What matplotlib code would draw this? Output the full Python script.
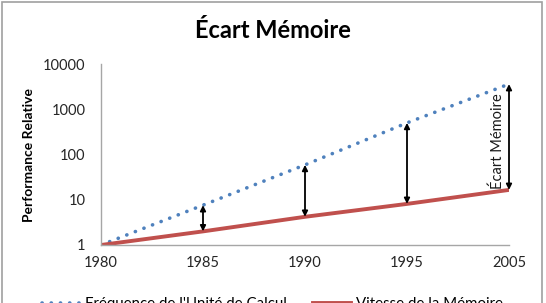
import numpy as np
import matplotlib
matplotlib.use("Agg")
from matplotlib import pyplot as plt
from matplotlib.patches import Rectangle

plt.rcParams['font.family'] = ['Lato', 'DejaVu Sans']

years = ["1980", "1985", "1990", "1995", "2005"]
cpu_perf = [1, 7.6, 59, 500, 3600]
mem_perf = [1, 2.0, 4.2, 8.1, 16.5]
gap_years = ["1985", "1990", "1995", "2005"]

x = np.arange(len(years))

fig = plt.figure(figsize=(5.46, 3.03), dpi=100)
ax = fig.add_axes([101 / 546, 1 - 245 / 303, 408 / 546, 181 / 303])

ax.plot(x, cpu_perf, color='#4F81BD', linewidth=2.6, linestyle=(0, (0.05, 2.5)),
        dash_capstyle='round', label="Fréquence de l'Unité de Calcul")
ax.plot(x, mem_perf, color='#C0504D', linewidth=2.8, label="Vitesse de la Mémoire")

for yr in gap_years:
    i = years.index(yr)
    ax.annotate("", xy=(x[i], cpu_perf[i]), xytext=(x[i], mem_perf[i]),
                arrowprops=dict(arrowstyle='<|-|>', color='black', lw=1.3,
                                mutation_scale=8, shrinkA=0, shrinkB=0))

ax.text(x[-1] - 0.11, 200, "Écart Mémoire", rotation=90, ha='center', va='center',
        fontsize=10.5, color='#1a1a1a')

ax.set_yscale('log')
ax.set_ylim(1, 10000)
ax.set_xlim(0, len(years) - 1)
ax.set_yticks([1, 10, 100, 1000, 10000])
ax.set_yticklabels(["1", "10", "100", "1000", "10000"])
ax.set_xticks(x)
ax.set_xticklabels(years)
ax.minorticks_off()
ax.tick_params(length=0, labelsize=10.5, colors='#262626')
ax.tick_params(axis='y', pad=11)
ax.tick_params(axis='x', pad=8)
for s in ['top', 'right']:
    ax.spines[s].set_visible(False)
for s in ['left', 'bottom']:
    ax.spines[s].set_color('#A6A6A6')
    ax.spines[s].set_linewidth(1)
ax.set_ylabel("Performance Relative", fontsize=10, fontweight='bold', labelpad=6)

fig.text(0.5, 1 - 31 / 303, "Écart Mémoire", ha='center', va='center',
         fontsize=17, fontweight='bold')

fig.legend(loc='center', bbox_to_anchor=(0.499, -1 / 303), ncol=2, frameon=False,
           fontsize=10.8, handlelength=2.5, handletextpad=0.35, columnspacing=1.8)

fig.patches.append(Rectangle((2 / 546, -0.1), 540 / 546, 1.1 - 2 / 303,
                             transform=fig.transFigure, fill=False,
                             edgecolor='#A0A0A0', linewidth=1.2))

fig.savefig("out.png", dpi=100)
